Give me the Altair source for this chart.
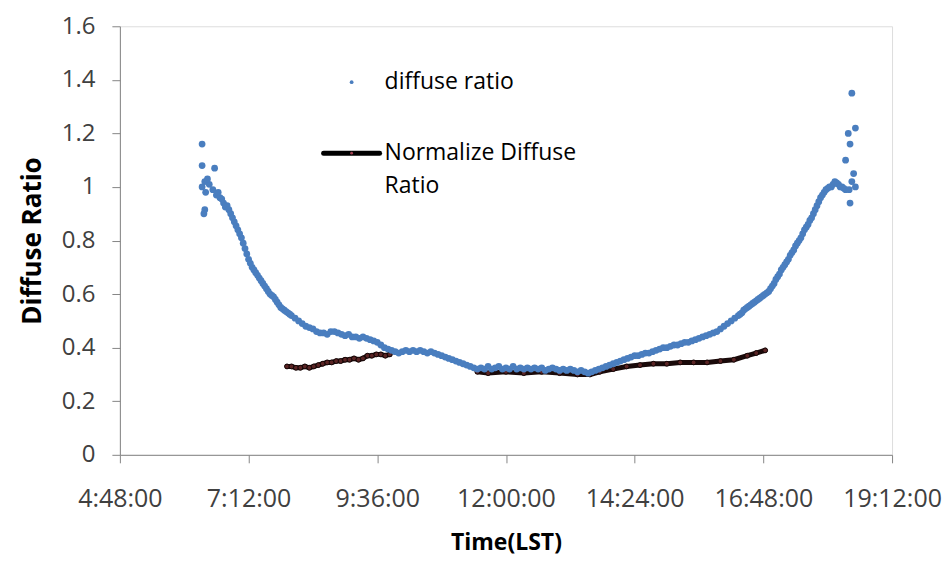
import altair as alt
import pandas as pd

# ---- data ----
blue_times = [
    "6:20", "6:24", "6:28", "6:32", "6:36", "6:40", "6:44", "6:48", "6:52", "6:56",
    "7:00", "7:04", "7:08", "7:12", "7:16", "7:20", "7:24", "7:28", "7:32", "7:36",
    "7:40", "7:44", "7:48", "7:52", "7:56", "8:00", "8:04", "8:08", "8:12", "8:16",
    "8:20", "8:24", "8:28", "8:32", "8:36", "8:40", "8:44", "8:48", "8:52", "8:56",
    "9:00", "9:04", "9:08", "9:12", "9:16", "9:20", "9:24", "9:28", "9:32", "9:36",
    "9:40", "9:44", "9:48", "9:52", "9:56", "10:00", "10:04", "10:08", "10:12", "10:16",
    "10:20", "10:24", "10:28", "10:32", "10:36", "10:40", "10:44", "10:48", "10:52", "10:56",
    "11:00", "11:04", "11:08", "11:12", "11:16", "11:20", "11:24", "11:28", "11:32", "11:36",
    "11:40", "11:44", "11:48", "11:52", "11:56", "12:00", "12:04", "12:08", "12:12", "12:16",
    "12:20", "12:24", "12:28", "12:32", "12:36", "12:40", "12:44", "12:48", "12:52", "12:56",
    "13:00", "13:04", "13:08", "13:12", "13:16", "13:20", "13:24", "13:28", "13:32", "13:36",
    "13:40", "13:44", "13:48", "13:52", "13:56", "14:00", "14:04", "14:08", "14:12", "14:16",
    "14:20", "14:24", "14:28", "14:32", "14:36", "14:40", "14:44", "14:48", "14:52", "14:56",
    "15:00", "15:04", "15:08", "15:12", "15:16", "15:20", "15:24", "15:28", "15:32", "15:36",
    "15:40", "15:44", "15:48", "15:52", "15:56", "16:00", "16:04", "16:08", "16:12", "16:16",
    "16:20", "16:24", "16:28", "16:32", "16:36", "16:40", "16:44", "16:48", "16:52", "16:56",
    "17:00", "17:04", "17:08", "17:12", "17:16", "17:20", "17:24", "17:28", "17:32", "17:36",
    "17:40", "17:44", "17:48", "17:52", "17:56", "18:00", "18:04", "18:08", "18:12", "18:16",
    "18:20",
]
blue_values = [
    1.00, 0.98, 1.01, 0.99, 0.97, 0.96, 0.94, 0.93, 0.90, 0.87,
    0.84, 0.81, 0.77, 0.73, 0.70, 0.68, 0.66, 0.64, 0.62, 0.60,
    0.59, 0.57, 0.55, 0.54, 0.53, 0.52, 0.51, 0.50, 0.49, 0.48,
    0.475, 0.47, 0.46, 0.455, 0.455, 0.45, 0.46, 0.46, 0.455, 0.45,
    0.445, 0.45, 0.44, 0.44, 0.435, 0.44, 0.435, 0.43, 0.425, 0.42,
    0.41, 0.40, 0.395, 0.39, 0.385, 0.38, 0.385, 0.39, 0.385, 0.39,
    0.385, 0.39, 0.385, 0.38, 0.385, 0.38, 0.375, 0.37, 0.365, 0.36,
    0.355, 0.35, 0.345, 0.34, 0.335, 0.33, 0.325, 0.32, 0.325, 0.32,
    0.33, 0.32, 0.325, 0.33, 0.32, 0.325, 0.32, 0.33, 0.32, 0.325,
    0.32, 0.325, 0.32, 0.325, 0.32, 0.325, 0.315, 0.32, 0.325, 0.32,
    0.315, 0.32, 0.315, 0.32, 0.315, 0.31, 0.315, 0.31, 0.305, 0.31,
    0.315, 0.32, 0.325, 0.33, 0.335, 0.34, 0.345, 0.35, 0.355, 0.36,
    0.365, 0.37, 0.37, 0.375, 0.38, 0.38, 0.385, 0.39, 0.395, 0.40,
    0.40, 0.405, 0.41, 0.41, 0.415, 0.42, 0.42, 0.425, 0.43, 0.435,
    0.44, 0.445, 0.45, 0.455, 0.46, 0.47, 0.48, 0.49, 0.50, 0.51,
    0.52, 0.53, 0.545, 0.555, 0.565, 0.575, 0.585, 0.595, 0.605, 0.62,
    0.64, 0.665, 0.69, 0.71, 0.73, 0.755, 0.78, 0.80, 0.825, 0.85,
    0.875, 0.90, 0.93, 0.96, 0.98, 0.995, 1.00, 1.02, 1.01, 1.00,
    0.99,
]
# extra readings in the steep morning and evening parts of the band
blue_mid_times = [
    "6:42", "6:46", "6:50", "6:54", "6:58", "7:02", "7:06", "7:10", "7:14", "7:18",
    "7:22", "7:26", "7:30", "7:34", "7:38", "7:42", "7:46", "7:50", "7:54", "7:58",
    "16:22", "16:26", "16:30", "16:34", "16:38", "16:42", "16:46", "16:50", "16:54", "16:58",
    "17:02", "17:06", "17:10", "17:14", "17:18", "17:22", "17:26", "17:30", "17:34", "17:38",
    "17:42", "17:46", "17:50", "17:54", "17:58", "18:02", "18:06", "18:10", "18:14", "18:18",
]
blue_mid_values = [
    0.955, 0.925, 0.915, 0.885, 0.855, 0.825, 0.79, 0.75, 0.715, 0.69,
    0.67, 0.65, 0.63, 0.61, 0.595, 0.58, 0.56, 0.545, 0.535, 0.525,
    0.525, 0.54, 0.55, 0.56, 0.57, 0.58, 0.59, 0.60, 0.61, 0.63,
    0.655, 0.675, 0.70, 0.72, 0.745, 0.765, 0.79, 0.81, 0.84, 0.86,
    0.885, 0.915, 0.945, 0.97, 0.99, 1.00, 1.01, 1.015, 1.00, 0.995,
]
# scattered outliers at sunrise and sunset
blue_extra_times = ["6:20", "6:20", "6:34", "6:23", "6:26", "6:23", "6:22", "6:38",
                    "18:27", "18:31", "18:23", "18:25", "18:20", "18:29", "18:31",
                    "18:25", "18:24", "18:27"]
blue_extra_values = [1.16, 1.08, 1.07, 1.02, 1.03, 0.915, 0.90, 0.98,
                     1.35, 1.22, 1.20, 1.16, 1.10, 1.05, 1.00,
                     0.94, 0.99, 1.02]

norm_a_times = ["7:55", "8:00", "8:05", "8:10", "8:15", "8:20", "8:25", "8:30", "8:35",
                "8:40", "8:45", "8:50", "8:55", "9:00", "9:05", "9:10", "9:15", "9:20",
                "9:25", "9:30", "9:35", "9:40", "9:45", "9:50"]
norm_a_values = [0.33, 0.33, 0.325, 0.325, 0.33, 0.325, 0.33, 0.335, 0.34,
                 0.345, 0.345, 0.35, 0.35, 0.355, 0.355, 0.36, 0.355, 0.36,
                 0.37, 0.37, 0.375, 0.375, 0.37, 0.375]
norm_b_times = ["11:28", "11:40", "12:00", "12:20", "12:40", "13:00", "13:20", "13:34",
                "13:45", "14:00", "14:15", "14:30", "14:45", "15:00", "15:15", "15:30",
                "15:45", "16:00", "16:15", "16:30", "16:40", "16:50"]
norm_b_values = [0.31, 0.305, 0.31, 0.305, 0.31, 0.305, 0.30, 0.30,
                 0.31, 0.32, 0.33, 0.335, 0.34, 0.34, 0.345, 0.345,
                 0.345, 0.35, 0.355, 0.37, 0.38, 0.39]

x_tick_hours = [4.8, 7.2, 9.6, 12.0, 14.4, 16.8, 19.2]
y_ticks = [0, 0.2, 0.4, 0.6, 0.8, 1.0, 1.2, 1.4, 1.6]
legend_labels = ["diffuse ratio", "Normalize Diffuse", "Ratio"]


def to_hours(t):
    h, m = t.split(":")
    return int(h) + int(m) / 60.0


blue_df = pd.DataFrame({
    "hour": [to_hours(t) for t in blue_times + blue_mid_times + blue_extra_times],
    "value": blue_values + blue_mid_values + blue_extra_values,
})
norm_df = pd.DataFrame({
    "hour": [to_hours(t) for t in norm_a_times + norm_b_times],
    "value": norm_a_values + norm_b_values,
    "seg": ["a"] * len(norm_a_times) + ["b"] * len(norm_b_times),
})

FONT = "Open Sans"
BLUE = "#4a7ebf"

label_expr = (
    "floor(datum.value+0.001) + ':' + "
    "(round((datum.value-floor(datum.value+0.001))*60) < 10 ? '0' : '') + "
    "round((datum.value-floor(datum.value+0.001))*60) + ':00'"
)

x_enc = alt.X(
    "hour:Q",
    scale=alt.Scale(domain=[4.8, 19.2], nice=False, zero=False),
    axis=alt.Axis(
        values=x_tick_hours, labelExpr=label_expr, title="Time(LST)",
        grid=False, tickSize=8, labelPadding=24, titlePadding=20,
        labelFontSize=25, titleFontSize=23, labelFont=FONT, titleFont=FONT,
        titleFontWeight="bold", labelColor="#404040", titleColor="#000000",
        domainColor="#868686", tickColor="#868686", labelFlush=False,
    ),
)
y_enc = alt.Y(
    "value:Q",
    scale=alt.Scale(domain=[0, 1.6], nice=False),
    axis=alt.Axis(
        values=y_ticks, format="~g", title="Diffuse Ratio",
        grid=False, tickSize=8, labelPadding=17, titlePadding=16,
        labelFontSize=24, titleFontSize=26, labelFont=FONT, titleFont=FONT,
        titleFontWeight="bold", labelColor="#404040", titleColor="#000000",
        domainColor="#868686", tickColor="#868686",
    ),
)

norm_line = alt.Chart(norm_df).mark_line(
    color="#1a0a0a", strokeWidth=5, strokeCap="round", strokeJoin="round"
).encode(x=x_enc, y=y_enc, detail="seg:N")

norm_pts = alt.Chart(norm_df).mark_circle(
    size=24, color="#5a2424", stroke="#140606", strokeWidth=1, opacity=1
).encode(x=x_enc, y=y_enc)

blue_pts = alt.Chart(blue_df).mark_circle(
    size=46, color=BLUE, opacity=1
).encode(x=x_enc, y=y_enc)

# manual in-plot legend
leg1_sym = alt.Chart(pd.DataFrame({"k": [0]})).mark_circle(
    size=14, color=BLUE, opacity=1
).encode(x=alt.value(232), y=alt.value(56))
leg1_txt = alt.Chart(pd.DataFrame({"t": [legend_labels[0]]})).mark_text(
    align="left", baseline="middle", font=FONT, fontSize=23, color="#000000"
).encode(text="t:N", x=alt.value(265), y=alt.value(56))

leg2_line = alt.Chart(pd.DataFrame({"k": [0]})).mark_rule(
    color="#000000", strokeWidth=5, strokeCap="round"
).encode(x=alt.value(204), x2=alt.value(260), y=alt.value(127))
leg2_sym = alt.Chart(pd.DataFrame({"k": [0]})).mark_circle(
    size=8, color="#a04050", opacity=1
).encode(x=alt.value(232), y=alt.value(127))
leg2_txt1 = alt.Chart(pd.DataFrame({"t": [legend_labels[1]]})).mark_text(
    align="left", baseline="middle", font=FONT, fontSize=23, color="#000000"
).encode(text="t:N", x=alt.value(265), y=alt.value(127))
leg2_txt2 = alt.Chart(pd.DataFrame({"t": [legend_labels[2]]})).mark_text(
    align="left", baseline="middle", font=FONT, fontSize=23, color="#000000"
).encode(text="t:N", x=alt.value(265), y=alt.value(160))

chart = alt.layer(
    norm_line, norm_pts, blue_pts,
    leg1_sym, leg1_txt, leg2_line, leg2_sym, leg2_txt1, leg2_txt2,
).properties(
    width=773, height=429,
    autosize=alt.AutoSizeParams(type="none"),
    padding={"left": 112, "top": 18, "right": 50, "bottom": 104},
).configure_view(stroke=None).configure(background="white")

chart.save("out.html", embed_options={"renderer": "svg", "actions": False})
